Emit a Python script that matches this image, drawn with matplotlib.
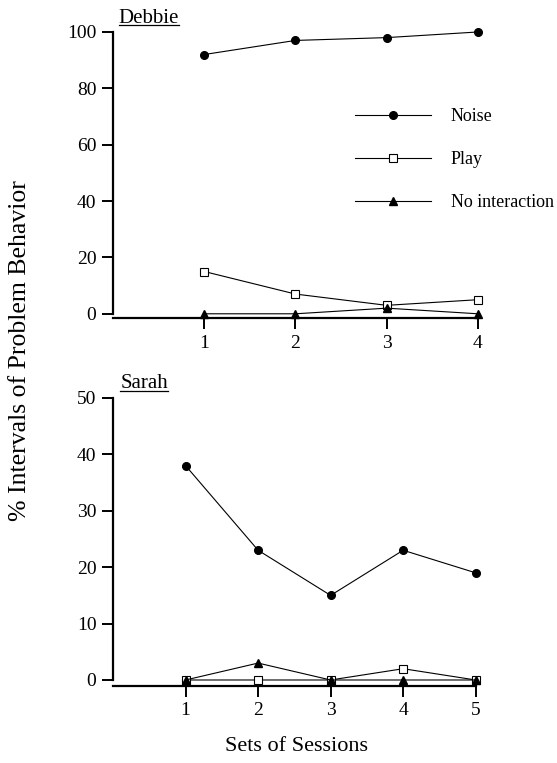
import matplotlib.pyplot as plt
from matplotlib.lines import Line2D

plt.rcParams['font.family'] = ['Liberation Serif', 'DejaVu Serif']

# Debbie
debbie_sets = [1, 2, 3, 4]
debbie_noise = [92, 97, 98, 100]
debbie_play = [15, 7, 3, 5]
debbie_noint = [0, 0, 2, 0]

# Sarah
sarah_sets = [1, 2, 3, 4, 5]
sarah_noise = [38, 23, 15, 23, 19]
sarah_play = [0, 0, 0, 2, 0]
sarah_noint = [0, 3, 0, 0, 0]

series_names = ['Noise', 'Play', 'No interaction']

fig = plt.figure(figsize=(5.57, 7.63), dpi=100)
ax1 = fig.add_axes([0.203, 0.5832, 0.655, 0.3749])
ax2 = fig.add_axes([0.203, 0.1014, 0.651, 0.377])


def draw(ax, x, noise, play, noint):
    ax.plot(x, noise, color='black', lw=0.8, marker='o', ms=5.5,
            mfc='black', mec='black', clip_on=False, label=series_names[0])
    ax.plot(x, play, color='black', lw=0.8, marker='s', ms=5.5,
            mfc='white', mec='black', mew=0.8, clip_on=False, label=series_names[1])
    ax.plot(x, noint, color='black', lw=0.8, marker='^', ms=5.5,
            mfc='black', mec='black', clip_on=False, label=series_names[2])
    for s in ['top', 'right']:
        ax.spines[s].set_visible(False)
    for s in ['left', 'bottom']:
        ax.spines[s].set_linewidth(1.6)
    ax.tick_params(axis='both', direction='out', length=8, width=1.4,
                   labelsize=14, pad=4)


draw(ax1, debbie_sets, debbie_noise, debbie_play, debbie_noint)
ax1.set_xlim(0, 4)
ax1.set_ylim(-1.5, 100)
ax1.spines['left'].set_bounds(0, 100)
ax1.set_xticks(debbie_sets)
ax1.set_yticks([0, 20, 40, 60, 80, 100])
t1 = ax1.text(0.06, 101.5, 'Debbie', fontsize=15, va='bottom')

draw(ax2, sarah_sets, sarah_noise, sarah_play, sarah_noint)
ax2.set_xlim(0, 5)
ax2.set_ylim(-1, 50)
ax2.spines['left'].set_bounds(0, 50)
ax2.set_xticks(sarah_sets)
ax2.set_yticks([0, 10, 20, 30, 40, 50])
t2 = ax2.text(0.1, 50.8, 'Sarah', fontsize=15, va='bottom')

ax1.legend(loc='upper left', bbox_to_anchor=(355 / 557, 1 - 108 / 763),
           bbox_transform=fig.transFigure, frameon=False, fontsize=13,
           handlelength=4.2, handletextpad=1.1, labelspacing=1.45,
           borderpad=0, borderaxespad=0, numpoints=1)

fig.text(0.036, 0.54, '% Intervals of Problem Behavior', rotation=90,
         fontsize=18.5, ha='center', va='center')
fig.text(0.533, 0.022, 'Sets of Sessions', fontsize=16, ha='center', va='center')

# underline the panel names
fig.canvas.draw()
r = fig.canvas.get_renderer()
for t in (t1, t2):
    bb = t.get_window_extent(r).transformed(fig.transFigure.inverted())
    fig.add_artist(Line2D([bb.x0, bb.x1], [bb.y0 + 0.003, bb.y0 + 0.003],
                          color='black', lw=0.9, transform=fig.transFigure))

fig.savefig('out.png', dpi=100)
